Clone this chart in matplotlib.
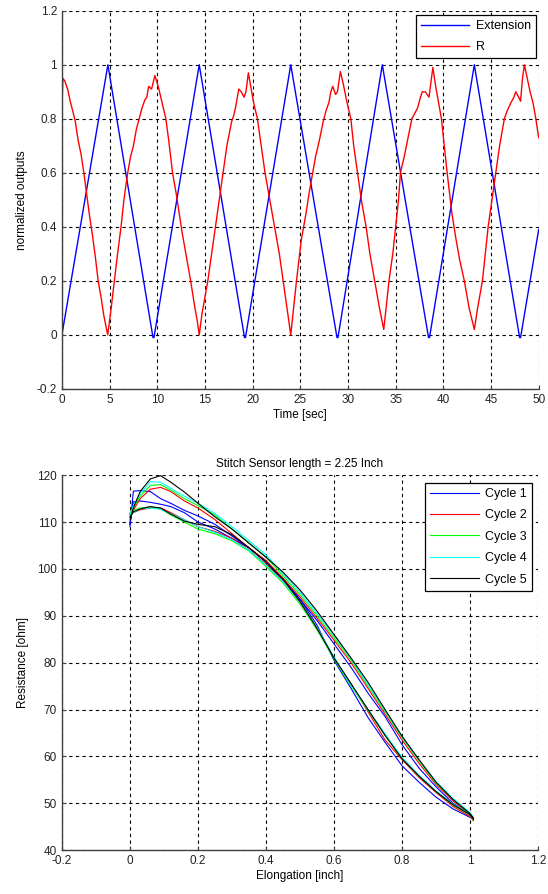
"""Stitch sensor: normalized extension / resistance over time, and R vs elongation loops."""

import matplotlib
matplotlib.use("Agg")
import matplotlib.pyplot as plt

plt.rcParams["font.family"] = ["Liberation Sans", "DejaVu Sans"]
plt.rcParams["font.size"] = 8

# --- top panel: triangular extension (vertices) and measured R ---
EXT_T = [0, 4.82, 9.55, 9.65, 14.4, 19.15, 19.25, 24.0, 28.85, 28.95, 33.6, 38.45, 38.55, 43.25, 48.0, 48.1, 50.0]
EXT_V = [0, 1.0, -0.01, -0.01, 1.0, -0.01, -0.01, 1.0, -0.01, -0.01, 1.0, -0.01, -0.01, 1.0, -0.01, -0.01, 0.39]

R_T = [0, 0.1, 0.3, 0.6, 0.9, 1.2, 1.4, 1.7, 2.0, 2.3, 2.6, 2.9, 3.2, 3.5, 3.8, 4.1, 4.4, 4.8,
       5.1, 5.5, 5.8, 6.2, 6.5, 6.9, 7.2, 7.5, 7.8, 8.1, 8.4, 8.7, 8.9, 9.1, 9.4, 9.75,
       10.1, 10.5, 10.9, 11.2, 11.6, 12.0, 12.3, 12.6, 13.0, 13.5, 13.9, 14.2, 14.4,
       14.7, 15.3, 15.7, 16.1, 16.5, 16.9, 17.3, 17.8, 18.0, 18.2, 18.55, 18.8, 19.1, 19.3, 19.55,
       19.8, 20.1, 20.5, 20.9, 21.3, 21.8, 22.3, 22.8, 23.2, 23.6, 24.0,
       24.3, 24.6, 25.1, 25.6, 25.9, 26.3, 26.6, 27.0, 27.4, 27.7, 28.0, 28.2, 28.4, 28.7, 28.9, 29.2,
       29.5, 29.9, 30.3, 30.6, 31.0, 31.4, 31.9, 32.3, 32.8, 33.3, 33.75,
       34.0, 34.3, 34.7, 35.0, 35.3, 35.5, 35.9, 36.3, 36.7, 37.0, 37.3, 37.6, 37.8, 38.1, 38.5, 38.9,
       39.2, 39.5, 39.8, 40.1, 40.4, 40.9, 41.3, 41.7, 42.2, 42.7, 43.25,
       43.6, 44.1, 44.4, 44.7, 45.1, 45.5, 45.9, 46.4, 46.7, 47.1, 47.4, 47.6, 47.9, 48.1, 48.3, 48.5,
       48.8, 49.1, 49.4, 49.7, 50.0]
R_V = [0.84, 0.95, 0.94, 0.91, 0.86, 0.82, 0.79, 0.72, 0.67, 0.60, 0.52, 0.44, 0.37, 0.29, 0.20, 0.14, 0.07, 0.0,
       0.08, 0.20, 0.29, 0.40, 0.50, 0.60, 0.66, 0.70, 0.76, 0.80, 0.84, 0.87, 0.88, 0.92, 0.91, 0.96,
       0.92, 0.86, 0.80, 0.72, 0.60, 0.52, 0.45, 0.38, 0.30, 0.20, 0.11, 0.05, 0.0,
       0.08, 0.20, 0.30, 0.40, 0.50, 0.60, 0.70, 0.79, 0.81, 0.84, 0.91, 0.90, 0.88, 0.90, 0.97,
       0.92, 0.86, 0.80, 0.70, 0.60, 0.50, 0.40, 0.30, 0.20, 0.10, 0.0,
       0.10, 0.20, 0.35, 0.45, 0.52, 0.60, 0.66, 0.72, 0.79, 0.83, 0.86, 0.90, 0.92, 0.89, 0.90, 0.975,
       0.93, 0.86, 0.80, 0.70, 0.60, 0.50, 0.40, 0.30, 0.20, 0.10, 0.02,
       0.10, 0.20, 0.30, 0.40, 0.50, 0.60, 0.66, 0.73, 0.80, 0.82, 0.84, 0.88, 0.90, 0.90, 0.88, 0.99,
       0.92, 0.86, 0.80, 0.70, 0.60, 0.45, 0.36, 0.28, 0.20, 0.10, 0.02,
       0.10, 0.20, 0.30, 0.40, 0.50, 0.60, 0.70, 0.80, 0.83, 0.86, 0.88, 0.90, 0.88, 0.865, 0.95, 1.0,
       0.95, 0.90, 0.86, 0.80, 0.73]

TOP_XTICKS = [0, 5, 10, 15, 20, 25, 30, 35, 40, 45, 50]
TOP_YTICKS = [-0.2, 0, 0.2, 0.4, 0.6, 0.8, 1, 1.2]
TOP_YLABELS = ["-0.2", "0", "0.2", "0.4", "0.6", "0.8", "1", "1.2"]

# --- bottom panel: resistance vs elongation, loading (up) and unloading (dn) ---
ELONG = [0, 0.01, 0.03, 0.06, 0.09, 0.12, 0.16, 0.2, 0.25, 0.3, 0.35, 0.4, 0.45,
         0.5, 0.55, 0.6, 0.65, 0.7, 0.75, 0.8, 0.85, 0.9, 0.95, 1.0, 1.01]
CYC1_UP = [109.0, 116.6, 116.7, 116.5, 115.0, 114.0, 112.5, 111.3, 109.5, 107.0, 104.5, 101.5, 97.5,
           93.5, 89.0, 84.0, 79.0, 73.5, 68.5, 62.5, 57.5, 53.5, 50.0, 47.5, 46.5]
CYC1_DN = [109.5, 114.3, 114.5, 114.2, 113.8, 113.3, 112.0, 110.0, 108.5, 106.5, 104.5, 101.5, 98.0,
           93.5, 88.0, 80.5, 74.5, 68.3, 63.0, 58.0, 54.5, 51.3, 48.8, 47.0, 46.5]
CYC2_UP = [111.5, 112.5, 115.0, 117.0, 117.4, 116.5, 114.5, 113.0, 110.5, 107.5, 104.5, 101.8, 98.0,
           94.0, 89.5, 84.8, 80.0, 74.5, 69.0, 63.5, 58.5, 54.0, 50.5, 47.5, 46.3]
CYC2_DN = [111.8, 112.0, 112.6, 113.0, 113.0, 112.0, 110.5, 109.0, 108.0, 106.5, 104.0, 101.0, 97.5,
           93.0, 87.5, 81.0, 75.5, 69.5, 63.5, 59.3, 55.5, 52.3, 49.3, 47.2, 46.3]
CYC3_UP = [111.0, 113.0, 115.5, 117.8, 118.0, 116.8, 115.0, 113.5, 111.5, 108.5, 105.5, 102.5, 98.5,
           94.5, 90.0, 85.3, 80.5, 75.0, 69.5, 64.0, 59.0, 54.3, 50.8, 47.8, 46.8]
CYC3_DN = [112.0, 112.5, 113.0, 113.2, 112.8, 111.5, 110.0, 108.5, 107.5, 106.0, 103.8, 100.5, 97.0,
           92.5, 87.0, 80.8, 75.0, 69.8, 64.5, 59.5, 55.8, 52.5, 49.6, 47.5, 46.5]
CYC4_UP = [111.5, 113.5, 116.0, 118.6, 118.5, 117.2, 115.5, 114.0, 111.8, 109.0, 106.0, 103.0, 99.0,
           95.0, 90.5, 85.8, 80.8, 75.3, 69.8, 64.2, 59.2, 54.6, 51.0, 48.0, 47.0]
CYC4_DN = [111.0, 112.0, 112.8, 113.0, 112.7, 111.8, 110.5, 109.0, 107.8, 106.2, 104.0, 100.8, 97.3,
           93.0, 87.5, 81.2, 75.2, 70.0, 64.8, 59.8, 56.0, 52.6, 49.8, 47.7, 46.7]
CYC5_UP = [110.4, 113.0, 116.5, 119.2, 119.9, 118.5, 116.4, 114.0, 111.1, 108.5, 105.5, 102.5, 99.3,
           95.5, 91.0, 86.0, 81.0, 75.8, 70.0, 64.3, 59.3, 54.5, 50.8, 47.8, 46.8]
CYC5_DN = [111.0, 112.2, 112.8, 113.3, 113.0, 111.7, 110.2, 109.5, 109.0, 107.3, 104.5, 101.5, 97.8,
           93.0, 87.3, 81.0, 75.5, 70.0, 64.5, 59.5, 55.8, 52.5, 49.7, 47.6, 46.6]
CYCLE_LABELS = ["Cycle 1", "Cycle 2", "Cycle 3", "Cycle 4", "Cycle 5"]
CYCLE_COLORS = ["#0000ff", "#ff0000", "#00ff00", "#00ffff", "#000000"]

BOT_XTICKS = [-0.2, 0, 0.2, 0.4, 0.6, 0.8, 1, 1.2]
BOT_XLABELS = ["-0.2", "0", "0.2", "0.4", "0.6", "0.8", "1", "1.2"]
BOT_YTICKS = [40, 50, 60, 70, 80, 90, 100, 110, 120]


def style_axes(ax):
    ax.grid(True, color="black", linestyle=(0, (3, 3)), linewidth=0.8)
    ax.set_axisbelow(True)
    for side in ("top", "right"):
        ax.spines[side].set_visible(False)
    for side in ("left", "bottom"):
        ax.spines[side].set_color("#404040")
        ax.spines[side].set_linewidth(1.0)
    ax.tick_params(direction="in", length=3, width=0.8, color="#404040",
                   labelsize=8.5, labelcolor="#222222")


def style_legend(leg):
    frame = leg.get_frame()
    frame.set_edgecolor("black")
    frame.set_linewidth(0.9)
    frame.set_boxstyle("square", pad=0)


fig = plt.figure(figsize=(5.48, 8.94), dpi=100)

# top panel
ax1 = fig.add_axes([0.113, 0.565, 0.870, 0.423])
ax1.plot(EXT_T, EXT_V, color="#0000ff", linewidth=1.0, label="Extension")
ax1.plot(R_T, R_V, color="#ff0000", linewidth=1.0, label="R")
ax1.set_xlim(0, 50)
ax1.set_ylim(-0.2, 1.2)
ax1.set_xticks(TOP_XTICKS)
ax1.set_yticks(TOP_YTICKS)
ax1.set_yticklabels(TOP_YLABELS)
ax1.set_xlabel("Time [sec]", fontsize=8.5, labelpad=2)
ax1.set_ylabel("normalized outputs", fontsize=8.5, labelpad=6)
style_axes(ax1)
leg1 = ax1.legend(loc="upper right", bbox_to_anchor=(0.994, 0.989), borderaxespad=0,
                  fancybox=False, handlelength=3.9, labelspacing=0.75, fontsize=9,
                  borderpad=0.4, handletextpad=0.5, framealpha=1)
style_legend(leg1)

# bottom panel
ax2 = fig.add_axes([0.113, 0.049, 0.869, 0.4195])
cycles = [(CYC1_UP, CYC1_DN), (CYC2_UP, CYC2_DN), (CYC3_UP, CYC3_DN),
          (CYC4_UP, CYC4_DN), (CYC5_UP, CYC5_DN)]
for (up, dn), label, color in zip(cycles, CYCLE_LABELS, CYCLE_COLORS):
    xs = ELONG + ELONG[::-1]
    ys = up + dn[::-1]
    ax2.plot(xs, ys, color=color, linewidth=0.8, label=label)
ax2.set_xlim(-0.2, 1.2)
ax2.set_ylim(40, 120)
ax2.set_xticks(BOT_XTICKS)
ax2.set_xticklabels(BOT_XLABELS)
ax2.set_yticks(BOT_YTICKS)
ax2.set_xlabel("Elongation [inch]", fontsize=8.5, labelpad=2)
ax2.set_ylabel("Resistance [ohm]", fontsize=8.5, labelpad=6)
ax2.set_title("Stitch Sensor length = 2.25 Inch", fontsize=8.5, pad=6)
style_axes(ax2)
leg2 = ax2.legend(loc="upper right", bbox_to_anchor=(0.987, 0.979), borderaxespad=0,
                  fancybox=False, handlelength=3.9, labelspacing=0.75, fontsize=9,
                  borderpad=0.4, handletextpad=0.5, framealpha=1)
style_legend(leg2)

fig.savefig("out.png", dpi=100)
plt.close(fig)
